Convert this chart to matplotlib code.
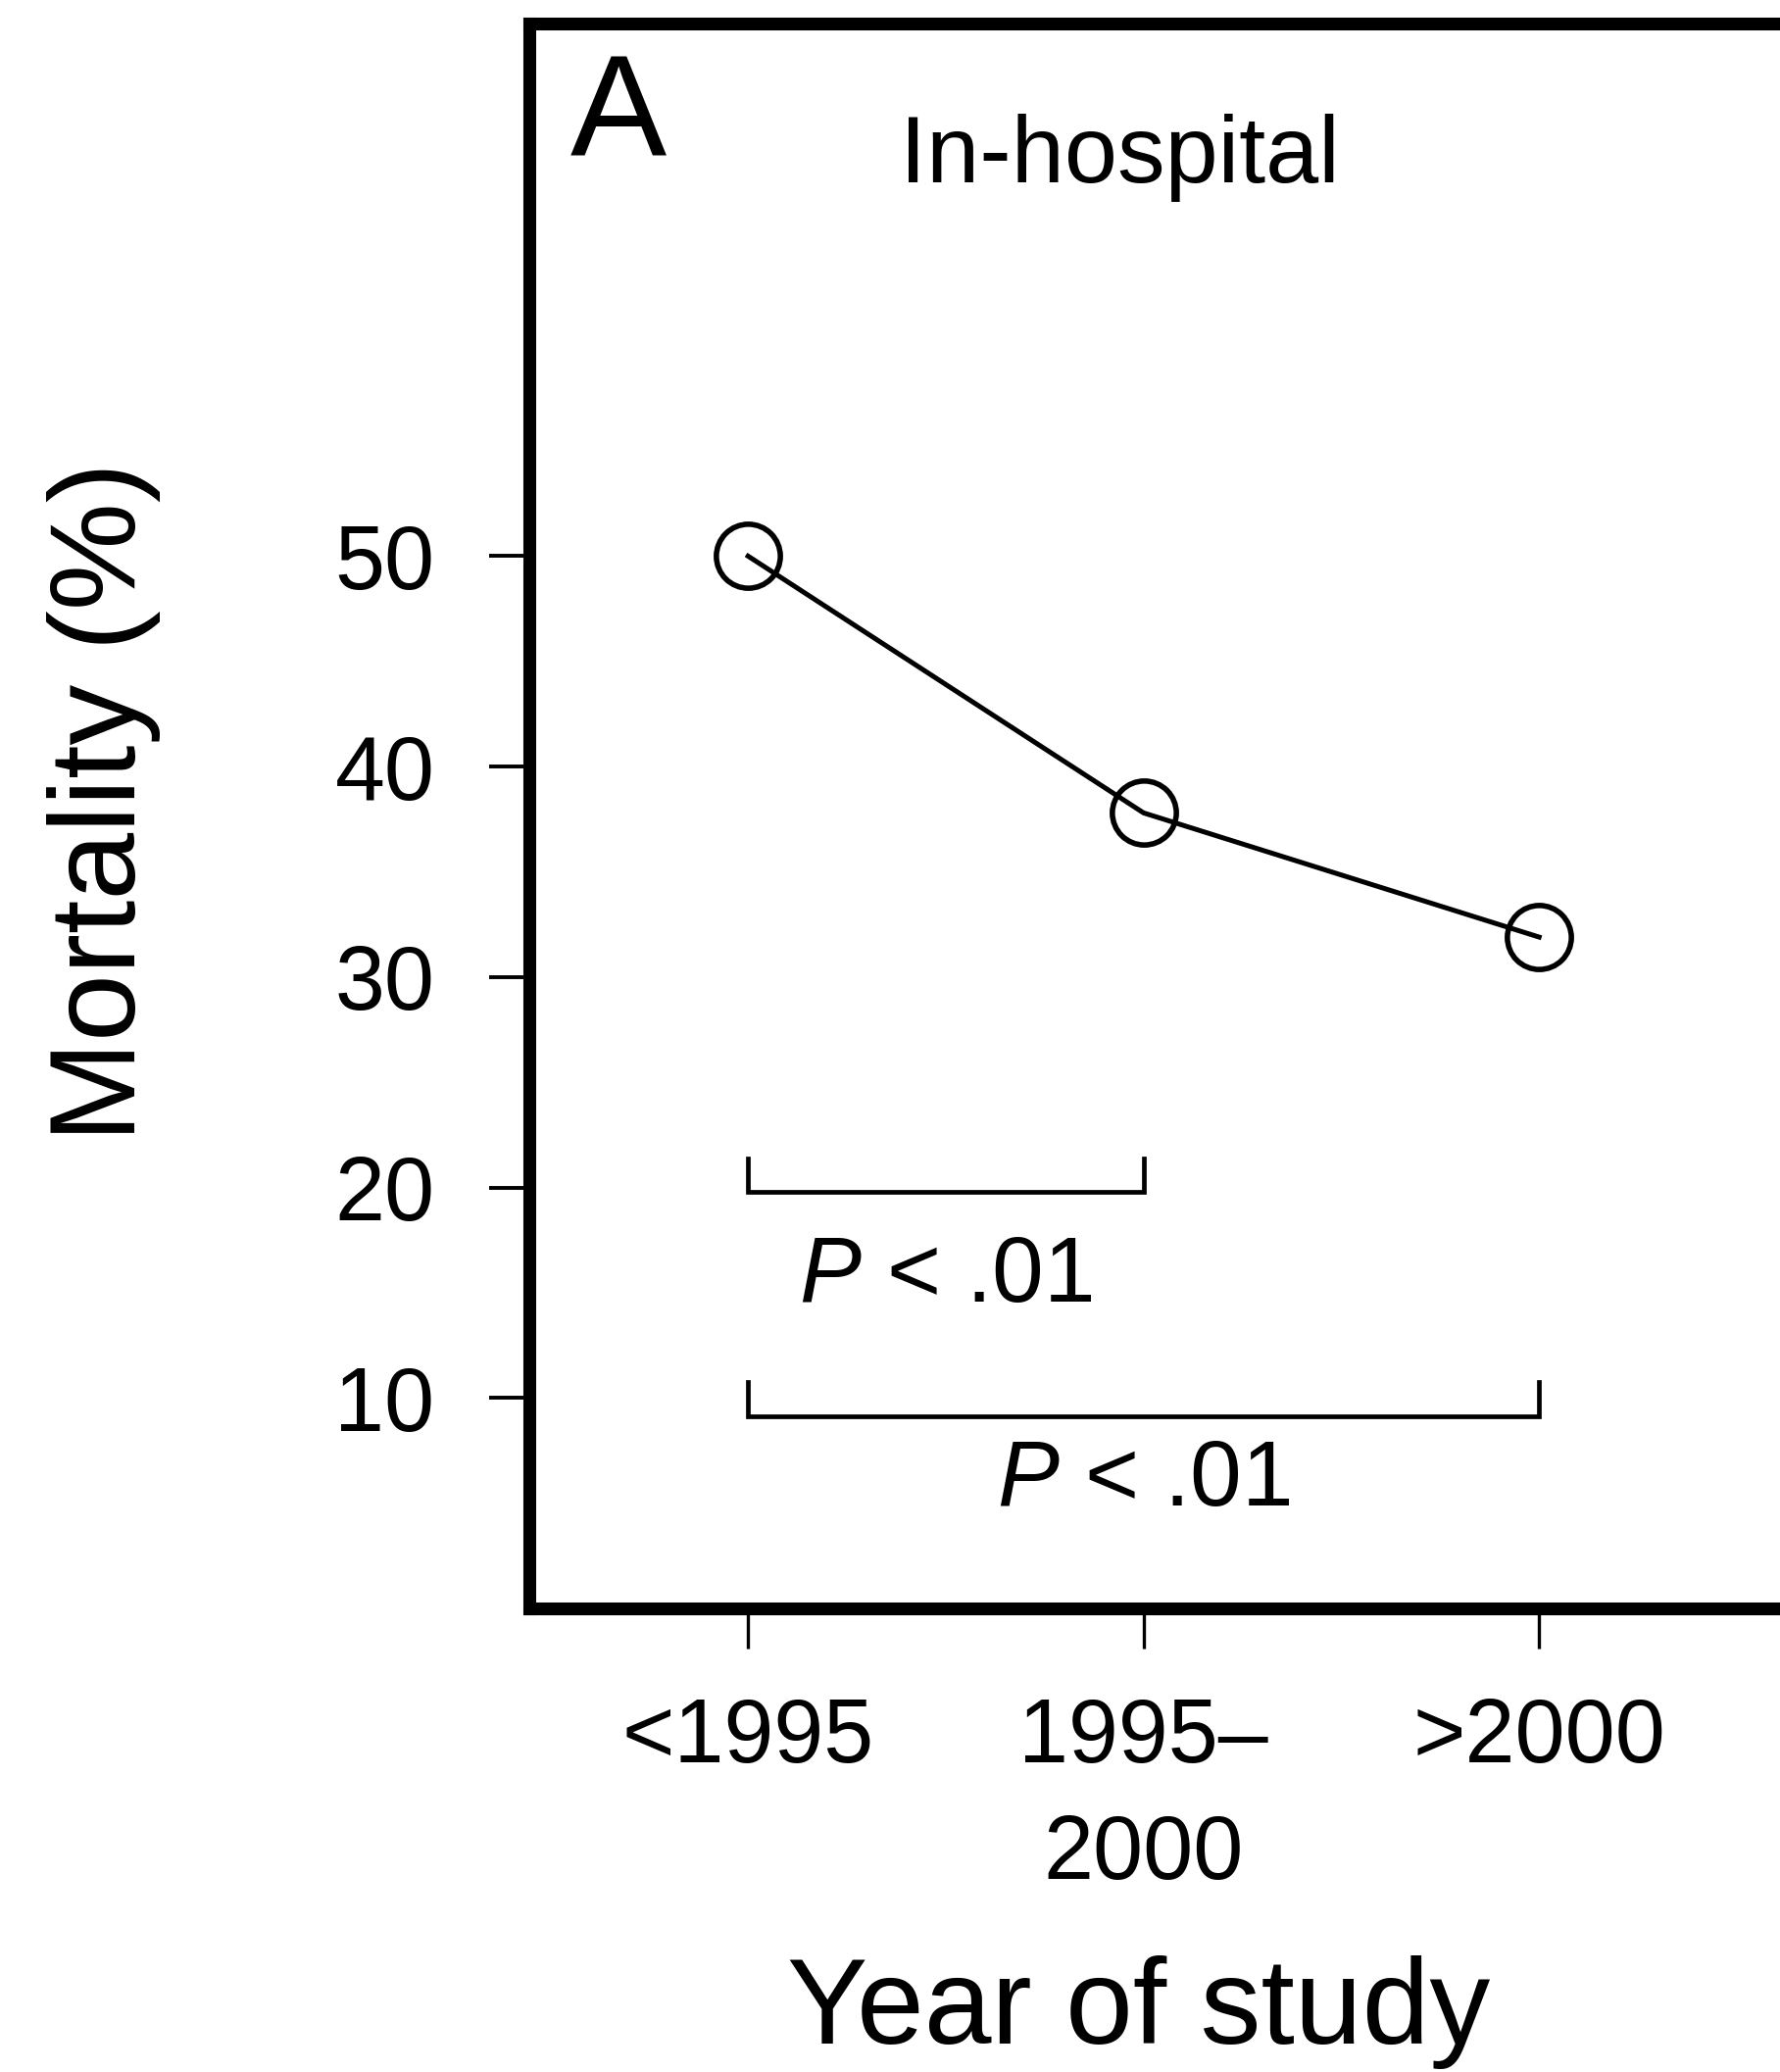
import matplotlib
matplotlib.use("Agg")
import matplotlib.pyplot as plt

# Mortality by study period
categories = ["<1995", "1995–\n2000", ">2000"]
mortality = [50.0, 37.8, 31.9]
y_ticks = [10, 20, 30, 40, 50]

# Pairwise comparison brackets: (from index, to index), bar level,
# label baseline, label text
bracket_pairs = [(0, 1), (0, 2)]
bracket_levels = [19.8, 9.15]
label_levels = [14.6, 4.9]
bracket_labels = [r"$\it{P}$ < .01", r"$\it{P}$ < .01"]

plt.rcParams["font.family"] = ["Liberation Sans", "DejaVu Sans"]
plt.rcParams["mathtext.fontset"] = "custom"
plt.rcParams["mathtext.rm"] = "Liberation Sans"
plt.rcParams["mathtext.it"] = "Liberation Sans:italic"

fig = plt.figure(figsize=(18.16, 21.14), dpi=100)
ax = fig.add_axes([0.2974, 0.2237, 0.7117, 0.7649])

x = list(range(len(categories)))
ax.plot(x, mortality, color="black", lw=3.6, marker="o", ms=47,
        mfc="none", mec="black", mew=4.0, zorder=3)

ax.set_xlim(-0.553, 2.65)
ax.set_ylim(0, 75.3)
ax.set_xticks(x)
ax.set_xticklabels(categories)
ax.set_yticks(y_ticks)

for s in ax.spines.values():
    s.set_linewidth(9.4)
ax.tick_params(axis="y", direction="out", length=29.5, width=2.8,
               pad=40, labelsize=66)
ax.tick_params(axis="x", direction="out", length=29.5, width=2.4,
               pad=35, labelsize=66)
for t in ax.get_xticklabels():
    t.set_linespacing(1.5)

# Significance brackets
tick_h = 1.6
for (i0, i1), lvl, ly, lab in zip(bracket_pairs, bracket_levels,
                                  label_levels, bracket_labels):
    ax.plot([i0, i0, i1, i1], [lvl + tick_h, lvl, lvl, lvl + tick_h],
            color="black", lw=3.4, solid_joinstyle="miter")
    ax.text((i0 + i1) / 2, ly, lab, ha="center", va="baseline",
            fontsize=68)

ax.text(0.0325, 0.9165, "A", transform=ax.transAxes, fontsize=106,
        ha="left", va="baseline")
ax.text(0.466, 0.9, "In-hospital", transform=ax.transAxes, fontsize=70,
        ha="center", va="baseline")

ax.set_ylabel("Mortality (%)", fontsize=89)
ax.yaxis.set_label_coords(-0.336, 0.509)
ax.yaxis.label.set_va("center")
ax.set_xlabel("Year of study", fontsize=89)
ax.xaxis.set_label_coords(0.481, -0.255)
ax.xaxis.label.set_va("center")

fig.savefig("out.png", dpi=100)
